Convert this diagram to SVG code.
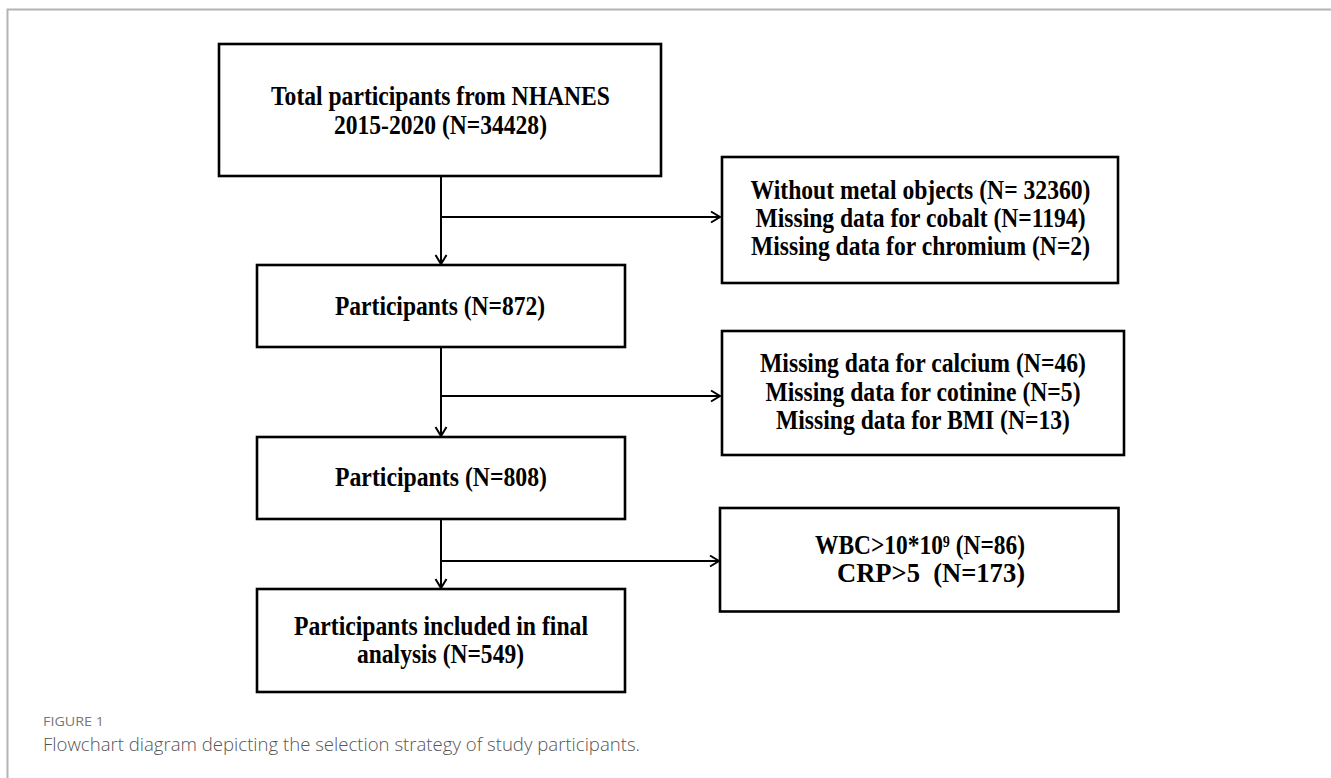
<svg xmlns="http://www.w3.org/2000/svg" width="1331" height="778" viewBox="0 0 1331 778">
<style>
.box{fill:#fff;stroke:#000;stroke-width:2.6}
.t{font-family:"Liberation Serif","Times New Roman",serif;font-weight:bold;font-size:27px;fill:#000;text-anchor:middle}
.c{fill:none;stroke:#000;stroke-width:2}
.frame{stroke:#b3b3b3;stroke-width:2;fill:none}
</style>
<defs>
<marker id="ah" markerUnits="userSpaceOnUse" markerWidth="14" markerHeight="14" viewBox="0 0 14 14" refX="12" refY="7" orient="auto">
<path d="M3,1.5 L12,7 L3,12.5" fill="none" stroke="#000" stroke-width="2"/>
</marker>
</defs>
<path class="frame" d="M7.5,778 V9.5 H1331"/>
<g id="connectors">
<line class="c" x1="441" y1="176" x2="441" y2="264" marker-end="url(#ah)"/>
<line class="c" x1="441" y1="217" x2="720" y2="217" marker-end="url(#ah)"/>
<line class="c" x1="441" y1="347" x2="441" y2="436" marker-end="url(#ah)"/>
<line class="c" x1="441" y1="396" x2="720" y2="396" marker-end="url(#ah)"/>
<line class="c" x1="441" y1="519" x2="441" y2="588" marker-end="url(#ah)"/>
<line class="c" x1="441" y1="561" x2="719" y2="561" marker-end="url(#ah)"/>
</g>
<g id="n1">
<rect class="box" x="219" y="44" width="442" height="132"/>
<text class="t" x="440.5" y="105" textLength="339" lengthAdjust="spacingAndGlyphs">Total participants from NHANES</text>
<text class="t" x="440.5" y="134" textLength="213" lengthAdjust="spacingAndGlyphs">2015-2020 (N=34428)</text>
</g>
<g id="n2">
<rect class="box" x="722" y="157" width="396" height="126"/>
<text class="t" x="920.5" y="199" textLength="340" lengthAdjust="spacingAndGlyphs">Without metal objects (N= 32360)</text>
<text class="t" x="920.5" y="227" textLength="330" lengthAdjust="spacingAndGlyphs">Missing data for cobalt (N=1194)</text>
<text class="t" x="920.5" y="255" textLength="339" lengthAdjust="spacingAndGlyphs">Missing data for chromium (N=2)</text>
</g>
<g id="n3">
<rect class="box" x="257" y="265" width="368" height="82"/>
<text class="t" x="440" y="315" textLength="210" lengthAdjust="spacingAndGlyphs">Participants (N=872)</text>
</g>
<g id="n4">
<rect class="box" x="722" y="331" width="402" height="124"/>
<text class="t" x="923" y="372" textLength="326" lengthAdjust="spacingAndGlyphs">Missing data for calcium (N=46)</text>
<text class="t" x="923" y="400.5" textLength="315" lengthAdjust="spacingAndGlyphs">Missing data for cotinine (N=5)</text>
<text class="t" x="923" y="429" textLength="294" lengthAdjust="spacingAndGlyphs">Missing data for BMI (N=13)</text>
</g>
<g id="n5">
<rect class="box" x="257" y="437" width="368" height="82"/>
<text class="t" x="441" y="486" textLength="212" lengthAdjust="spacingAndGlyphs">Participants (N=808)</text>
</g>
<g id="n6">
<rect class="box" x="720" y="508" width="398.5" height="103.5"/>
<text class="t" x="920" y="554" textLength="210" lengthAdjust="spacingAndGlyphs">WBC&gt;10*10⁹ (N=86)</text>
<text class="t" x="931" y="582" textLength="188" lengthAdjust="spacingAndGlyphs" xml:space="preserve">CRP&gt;5  (N=173)</text>
</g>
<g id="n7">
<rect class="box" x="257" y="589" width="368" height="103"/>
<text class="t" x="441" y="635" textLength="294" lengthAdjust="spacingAndGlyphs">Participants included in final</text>
<text class="t" x="440.5" y="663" textLength="167" lengthAdjust="spacingAndGlyphs">analysis (N=549)</text>
</g>
<g id="caption">
<text x="43" y="726" font-family="'Open Sans',sans-serif" font-size="12" fill="#777" textLength="61" lengthAdjust="spacingAndGlyphs">FIGURE 1</text>
<text x="43" y="751" font-family="'Open Sans',sans-serif" font-weight="300" font-size="18" fill="#555" textLength="597" lengthAdjust="spacingAndGlyphs">Flowchart diagram depicting the selection strategy of study participants.</text>
</g>
</svg>
